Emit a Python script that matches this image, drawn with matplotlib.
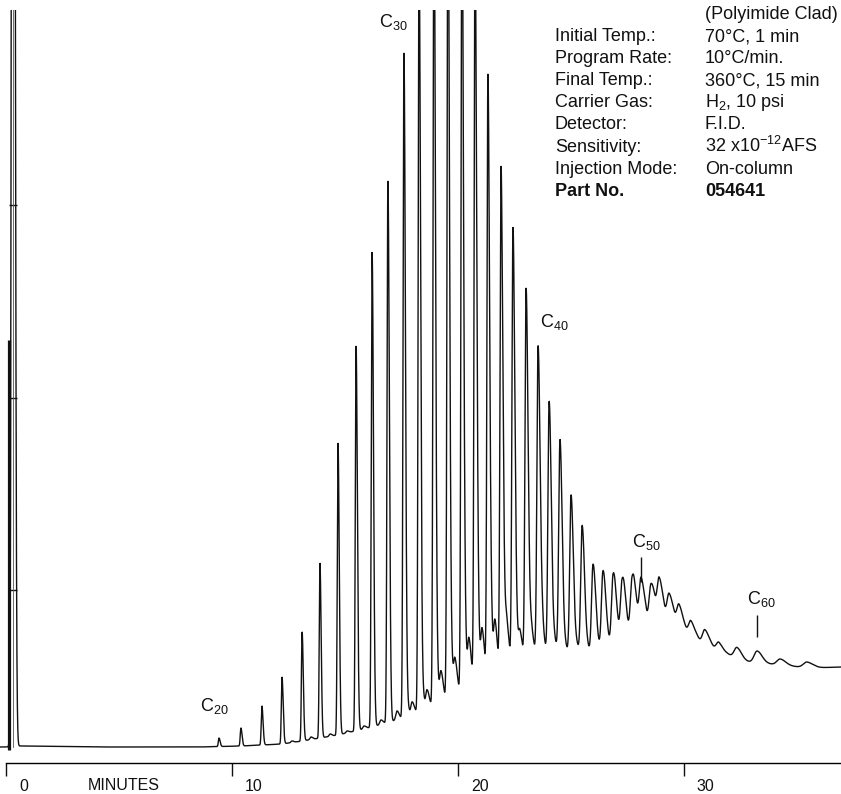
import numpy as np
import matplotlib
matplotlib.use("Agg")
import matplotlib.pyplot as plt
from matplotlib.transforms import ScaledTranslation

plt.rcParams['font.family'] = ['Liberation Sans', 'DejaVu Sans']
plt.rcParams['mathtext.fontset'] = 'custom'
plt.rcParams['mathtext.rm'] = 'Liberation Sans'
plt.rcParams['mathtext.it'] = 'Liberation Sans:italic'
plt.rcParams['mathtext.bf'] = 'Liberation Sans:bold'

# n-alkane peaks (C20 ... C61): retention time in minutes, apex response
alkane_times = [9.42, 10.39, 11.32, 12.21, 13.10, 13.89, 14.69, 15.49, 16.20, 16.90,
                17.61, 18.28, 18.94, 19.56, 20.18, 20.76, 21.33, 21.91, 22.44, 23.02,
                23.55, 24.04, 24.52, 25.01, 25.50, 25.98, 26.42, 26.87, 27.27, 27.71,
                28.11, 28.55, 28.91, 29.35, 29.79, 30.32, 30.94, 31.56, 32.36, 33.25,
                34.27, 35.46]
alkane_apex = [9, 19, 41, 70, 115, 184, 304, 401, 495, 566,
               694, 800, 860, 880, 860, 810, 670, 577, 516, 454,
               395, 340, 300, 246, 214, 175, 167, 160, 149, 150,
               151, 144, 150, 140, 134, 121, 113, 101, 98, 96,
               88, 85]

# branched / unresolved components between the n-alkanes
minor_times = [12.65, 13.49, 14.34, 15.09, 15.84, 16.59, 17.30, 17.97, 18.63, 19.25,
               19.87, 20.49, 21.07, 21.64, 22.17, 22.75, 23.28, 23.77, 24.30, 24.79,
               25.28, 25.76, 26.20, 26.65, 27.09, 27.49, 27.93, 28.33, 28.73, 29.13,
               29.57, 30.06, 30.63, 31.25, 31.96]
minor_apex = [6, 10, 13, 16, 21, 27, 36, 45, 57, 75,
              87, 107, 117, 125, 119, 114, 110, 107, 102, 97,
              99, 97, 99, 102, 107, 111, 117, 122, 125, 125,
              122, 115, 107, 99, 92]

# shoulders eluting just after the n-alkanes
shoulder_times = [17.78, 18.45, 19.10, 19.72, 20.33, 20.90, 21.47, 22.04, 22.58, 23.15,
                  23.67, 24.16, 24.64, 25.13, 25.61, 26.09, 26.53, 26.97, 27.37, 27.81]
shoulder_apex = [40, 52, 62, 80, 95, 110, 118, 120, 112, 108,
                 104, 100, 96, 95, 96, 98, 100, 104, 108, 112]

# baseline hump of the unresolved mixture
baseline_times = [0.34, 0.61, 4.15, 8.58, 10.39, 11.32, 12.21, 13.10, 14.69, 16.20,
                  17.61, 18.94, 20.18, 21.42, 22.75, 24.08, 25.41, 26.74, 28.07, 28.95,
                  29.61, 30.28, 30.94, 31.61, 32.94, 34.27, 35.59, 36.97]
baseline_level = [0, 1, 0, 0, 1, 2, 3, 6, 12, 20,
                  29, 41, 53, 65, 74, 81, 85, 89, 97, 107,
                  111, 105, 95, 89, 85, 82, 79, 80]

# solvent front and pen marker
solvent_time = 0.30
solvent_apex = 2500
marker_time = 0.11
marker_top = 407

# carbon-number annotations
label_numbers = [20, 30, 40, 50, 60]
label_times = [8.58, 16.51, 23.64, 27.71, 32.80]
label_levels = [36, 720, 420, 200, 143]
marked_peaks = [30, 39]          # indices of peaks with a pointer line
marked_ranges = [(165, 190), (110, 132)]

# y-scale reference ticks on the solvent line
scale_ticks = [157, 349, 542]

xticks = [0, 10, 20, 30]

info_keys = ["Initial Temp.:", "Program Rate:", "Final Temp.:", "Carrier Gas:",
             "Detector:", "Sensitivity:", "Injection Mode:"]
info_vals = ["70°C, 1 min", "10°C/min.", "360°C, 15 min", r"H$_2$, 10 psi",
             "F.I.D.", r"32 x10$^{\mathregular{-12}}$AFS", "On-column"]
part_key = "Part No."
part_val = "054641"
column_note = "(Polyimide Clad)"

# ---------------------------------------------------------------- trace
PX_PER_MIN = 22.58
t = np.linspace(-0.28, 37.0, 80000)
signal = np.interp(t, baseline_times, baseline_level)


def width_px(tt):
    return np.interp(tt, [0, 14, 17, 21.5, 26, 30.7, 35.5],
                     [0.55, 0.7, 0.85, 0.95, 1.4, 2.3, 3.5])


def add_peak(y, t0, amp, sl, sr):
    s = np.where(t < t0, sl, sr)
    return y + amp * np.exp(-0.5 * ((t - t0) / s) ** 2)


for t0, apex in zip(alkane_times, alkane_apex):
    amp = apex - np.interp(t0, baseline_times, baseline_level)
    w = width_px(t0) / PX_PER_MIN
    signal = add_peak(signal, t0, max(amp, 0), w, 1.7 * w)

for t0, apex in zip(minor_times, minor_apex):
    amp = apex - np.interp(t0, baseline_times, baseline_level)
    w = 1.4 * width_px(t0) / PX_PER_MIN
    signal = add_peak(signal, t0, max(amp, 0), w, 1.8 * w)

for t0, apex in zip(shoulder_times, shoulder_apex):
    amp = apex - np.interp(t0, baseline_times, baseline_level)
    w = 1.1 * width_px(t0) / PX_PER_MIN
    signal = add_peak(signal, t0, max(amp, 0), w, 1.5 * w)

signal = add_peak(signal, solvent_time, solvent_apex, 1.2 / PX_PER_MIN, 1.5 / PX_PER_MIN)

# ---------------------------------------------------------------- figure
W, H = 841, 794
fig = plt.figure(figsize=(W / 100, H / 100), dpi=100)
ax = fig.add_axes([0, 1 - 763 / H, 1, (763 - 10) / H])
ax.set_xlim(-6.3 / PX_PER_MIN, (W - 6.3) / PX_PER_MIN)
ax.set_ylim(-16, 737)

ax.plot(t, signal, color='#111111', lw=1.0, solid_joinstyle='miter')
ax.vlines(marker_time, -3, marker_top, color='#111111', lw=2.3)

for spine in ('top', 'right'):
    ax.spines[spine].set_visible(False)
ax.spines['left'].set_position(('data', solvent_time))
ax.spines['left'].set_bounds(0, 737)
ax.spines['left'].set_linewidth(0.6)
ax.spines['left'].set_color('#555555')
ax.set_yticks(scale_ticks)
ax.set_yticklabels([])
ax.tick_params(axis='y', direction='inout', length=6, width=1, color='#111111')

ax.spines['bottom'].set_bounds(0, (W - 6.3) / PX_PER_MIN)
ax.spines['bottom'].set_linewidth(1.0)
ax.set_xticks(xticks)
ax.set_xticklabels([str(v) for v in xticks])
ax.tick_params(axis='x', direction='out', length=9.5, width=1.0, pad=2,
               labelsize=11.5, color='#111111', labelcolor='#111111')
offset = ScaledTranslation(13 / 100, 0, fig.dpi_scale_trans)
for lab in ax.get_xticklabels():
    lab.set_horizontalalignment('left')
    lab.set_transform(lab.get_transform() + offset)

fig.text(88 / W, 1 - 786 / H, "MINUTES", fontsize=11.5, va='center', ha='left',
         color='#111111')

# carbon number labels
for n, tx, lv in zip(label_numbers, label_times, label_levels):
    ax.text(tx, lv, r"$\mathregular{C_{%d}}$" % n, fontsize=13, ha='left',
            va='baseline', color='#111111')
for idx, (y0, y1) in zip(marked_peaks, marked_ranges):
    ax.vlines(alkane_times[idx], y0, y1, color='#111111', lw=1.0)

# method conditions block
def ftext(x, y, s, **kw):
    fig.text(x / W, 1 - y / H, s, fontsize=13, va='baseline', ha='left',
             color='#111111', **kw)

ftext(705, 19, column_note)
for i, (k, v) in enumerate(zip(info_keys, info_vals)):
    yb = 41 + 22.1 * i
    ftext(555, yb, k)
    ftext(705, yb, v)
ftext(555, 41 + 22.1 * 7, part_key, fontweight='bold')
ftext(705, 41 + 22.1 * 7, part_val, fontweight='bold')

fig.savefig("out.png", dpi=100, facecolor='white')
